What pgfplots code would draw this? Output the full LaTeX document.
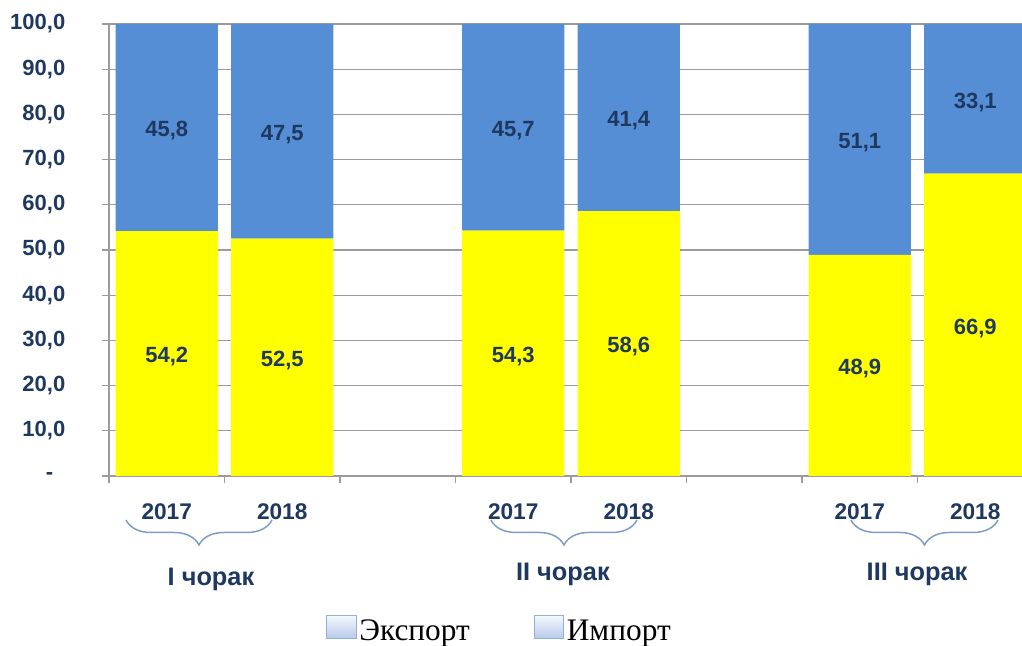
\documentclass[border=0pt]{standalone}
\usepackage{fontspec}
\setmainfont{Liberation Sans}
\newfontfamily\seriffont{Liberation Serif}
\usepackage{pgfplots}
\pgfplotsset{compat=1.18}
\usetikzlibrary{decorations.pathreplacing}
\definecolor{navy}{RGB}{31,56,96}
\definecolor{barblue}{RGB}{85,142,213}
\definecolor{baryellow}{RGB}{255,255,0}
\definecolor{gridgrey}{RGB}{155,155,155}
\definecolor{bracecol}{RGB}{125,155,200}
\definecolor{legtop}{RGB}{245,248,253}
\definecolor{legbot}{RGB}{185,202,235}
\definecolor{legdraw}{RGB}{150,175,215}
\newcommand{\lab}{\fontsize{16.5}{19}\selectfont\bfseries}
\newcommand{\yearf}{\fontsize{17}{20}\selectfont\bfseries}
\newcommand{\grpf}{\fontsize{19}{22}\selectfont\bfseries}
\pgfplotsset{mylegend/.style={legend image code/.code={
     \shade[top color=legtop, bottom color=legbot, draw=legdraw, line width=0.8pt] (0pt,-5pt) rectangle (22pt,12pt);}}}
\pgfplotstableread{
x yexp yimp
0 54.2 45.8
1 52.5 47.5
3 54.3 45.7
4 58.6 41.4
6 48.9 51.1
7 66.9 33.1
}\shares
\pgfplotstableread{
x y lab
0 27.1 54,2
1 26.25 52,5
3 27.15 54,3
4 29.3 58,6
6 24.45 48,9
7 33.45 66,9
0 77.1 45,8
1 76.25 47,5
3 77.15 45,7
4 79.3 41,4
6 74.45 51,1
7 83.45 33,1
}\labels
\begin{document}
\begin{tikzpicture}
\useasboundingbox (-81.75pt,-127.5pt) rectangle (684.75pt,357pt);
\begin{axis}[
  at={(0,0)}, anchor=south west,
  scale only axis, width=693pt, height=339pt,
  ybar stacked, bar width=0.887,
  xmin=-0.5, xmax=7.5, ymin=0, ymax=100,
  axis lines*=left,
  axis line style={-, draw=gridgrey, line width=1pt},
  xtick={-0.5,0.5,...,7.5},
  x tick label as interval,
  xticklabels={2017,2018,,2017,2018,,2017,2018},
  ytick={0,10,...,100},
  yticklabels={{-\kern9pt},{10,0},{20,0},{30,0},{40,0},{50,0},{60,0},{70,0},{80,0},{90,0},{100,0}},
  tick align=outside,
  major tick length=5.25pt,
  tick style={draw=gridgrey, line width=0.8pt},
  ymajorgrids,
  major grid style={draw=gridgrey, line width=0.8pt},
  yticklabel style={font=\lab, text=navy, xshift=-24pt},
  xticklabel style={font=\yearf, text=navy, yshift=-12pt},
  legend style={draw=none, fill=none, at={(0.423,-0.341)}, anchor=center,
     legend columns=2, font=\seriffont\fontsize{23.5}{26}\selectfont,
     /tikz/every even column/.append style={column sep=46pt}},
]
\addplot[fill=baryellow, draw=none, mylegend] table[x=x, y=yexp] {\shares};
\addlegendentry{Экспорт}
\addplot[fill=barblue, draw=none, mylegend] table[x=x, y=yimp] {\shares};
\addlegendentry{Импорт}
\end{axis}
\begin{axis}[
  at={(0,0)}, anchor=south west,
  scale only axis, width=693pt, height=339pt,
  xmin=-0.5, xmax=7.5, ymin=0, ymax=100,
  hide axis, clip=false,
]
\addplot[draw=none, mark=none, nodes near coords, point meta=explicit symbolic,
  nodes near coords align=center,
  every node near coord/.append style={font=\lab, text=navy, anchor=center, yshift=-2.5pt}]
  table[x=x, y=y, meta=lab] {\labels};
\begin{scope}[bracecol, line width=1.1pt, decorate, decoration={brace, mirror, amplitude=18.75pt}]
\draw[decorate] (axis cs:-0.353,-9.73) -- (axis cs:0.911,-9.73);
\draw[decorate] (axis cs:2.807,-9.73) -- (axis cs:4.071,-9.73);
\draw[decorate] (axis cs:5.924,-9.73) -- (axis cs:7.197,-9.73);
\end{scope}
\node[font=\grpf, text=navy] at (axis cs:0.383,-22.95) {I чорак};
\node[font=\grpf, text=navy] at (axis cs:3.43,-21.85) {II чорак};
\node[font=\grpf, text=navy] at (axis cs:6.496,-21.85) {III чорак};
\end{axis}
\end{tikzpicture}
\end{document}
